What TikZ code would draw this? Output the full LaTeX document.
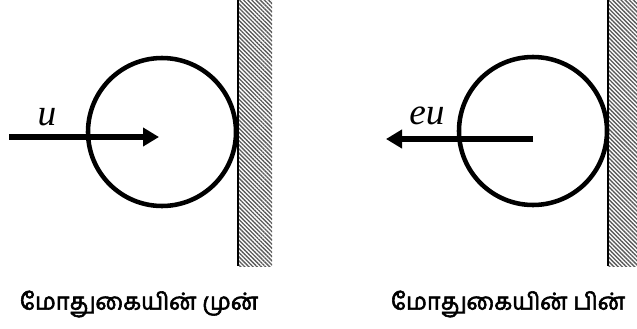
\documentclass[tikz,border=0pt]{standalone}
\usepackage{fontspec}
\setmainfont{Liberation Serif}
\newfontfamily\tamil[Script=Tamil,FakeBold=2.5]{Hind Madurai}
\usetikzlibrary{arrows.meta,patterns.meta}

\tikzset{
  ball/.style={draw, circle, line width=3.4pt, inner sep=0pt, minimum size=111pt},
  vel/.style={line width=4.5pt, -{Triangle[length=12pt,width=13.5pt]}},
  wall/.style={pattern={Lines[angle=-45,distance=2.2pt,line width=1pt]}, pattern color=gray!70!black},
  speed/.style={font=\fontsize{28}{32}\selectfont\itshape},
  caption/.style={font=\tamil\fontsize{17.5}{21}\selectfont}
}

\begin{document}
\begin{tikzpicture}[x=0.75pt,y=-0.75pt]
    \useasboundingbox (0,0) rectangle (637,329);
    % before impact
    \fill[wall] (238,0) rectangle (272,266);
    \draw[line width=0.9pt] (238,0) -- (238,266);
    \node[ball] (ballA) at (162,132) {};
    \coordinate (uTail) at (9,137);
    \coordinate (uTip) at (159,137);
    \draw[vel] (uTail) -- (uTip);
    \node[speed] (u) at (47,117) {u};
    \node[caption] (before) at (139,304) {மோதுகையின் முன்};
    % after impact
    \fill[wall] (608,0) rectangle (637,266);
    \draw[line width=0.9pt] (608,0) -- (608,266);
    \node[ball] (ballB) at (533,131) {};
    \coordinate (euTail) at (533,139);
    \coordinate (euTip) at (386,139);
    \draw[vel] (euTail) -- (euTip);
    \node[speed] (eu) at (427,116) {eu};
    \node[caption] (after) at (508,304) {மோதுகையின் பின்};
\end{tikzpicture}
\end{document}
